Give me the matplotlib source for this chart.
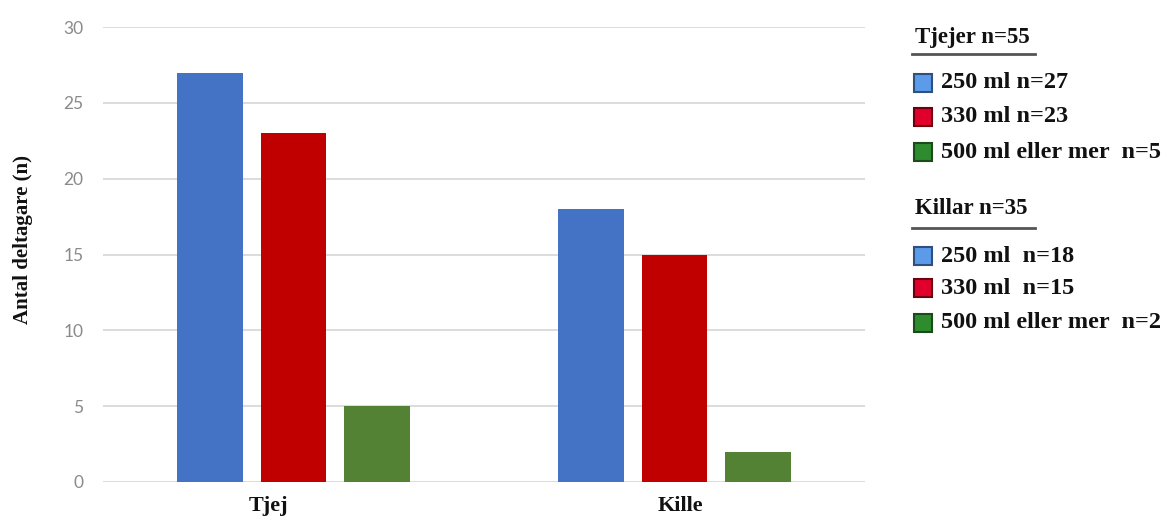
import matplotlib
matplotlib.use("Agg")
import matplotlib.pyplot as plt
import matplotlib.transforms as mtransforms
from matplotlib.patches import Rectangle
from matplotlib.lines import Line2D
import numpy as np

categories = ["Tjej", "Kille"]
series_names = ["250 ml", "330 ml", "500 ml eller mer"]
v250 = [27, 18]
v330 = [23, 15]
v500 = [5, 2]
yticks = [0, 5, 10, 15, 20, 25, 30]
ylabel = "Antal deltagare (n)"

legend_groups = [
    ("Tjejer n=55", ["250 ml n=27", "330 ml n=23", "500 ml eller mer  n=5"]),
    ("Killar n=35", ["250 ml  n=18", "330 ml  n=15", "500 ml eller mer  n=2"]),
]

bar_colors = ["#4472c4", "#c00000", "#548235"]
legend_face = ["#5b9bea", "#e0002b", "#2e8b2e"]
legend_edge = ["#2f4f7f", "#6a0010", "#1b4a1b"]

W, H = 1163, 518
fig = plt.figure(figsize=(W / 100, H / 100), dpi=100)
ax = fig.add_axes([103 / W, 1 - 482 / H, (865 - 103) / W, (482 - 27) / H])

x = np.arange(len(categories))
width = 0.173
offset = 0.22
for i, vals in enumerate([v250, v330, v500]):
    ax.bar(x + (i - 1) * offset, vals, width=width, color=bar_colors[i], zorder=3)

ax.set_xlim(-0.5, 1.5)
ax.set_ylim(0, 30)
ax.set_yticks(yticks)
ax.set_yticklabels([str(t) for t in yticks], fontsize=12.5, color="#8a8a8a", family="Lato")
ax.set_xticks(x)
ax.set_xticklabels(categories, fontsize=16, fontweight="bold", family="Liberation Serif", color="#111111")
ax.tick_params(axis="both", length=0)
ax.tick_params(axis="x", pad=10)
ax.tick_params(axis="y", pad=14)
ax.grid(axis="y", color="#d9d9d9", linewidth=1.3, zorder=0)
for s in ax.spines.values():
    s.set_visible(False)

# small horizontal shifts of category labels as in the reference
label_shift_px = [-25, 6]
for lab, dx in zip(ax.get_xticklabels(), label_shift_px):
    lab.set_transform(lab.get_transform() + mtransforms.ScaledTranslation(dx / 100, 0, fig.dpi_scale_trans))

ax.set_ylabel(ylabel, fontsize=15, fontweight="bold", family="Liberation Serif", color="#111111")
ax.yaxis.set_label_coords(-(103 - 33) / (865 - 103), (482 - 240) / (482 - 27))

def fx(px):
    return px / W

def fy(py):
    return 1 - py / H

header_y = [37, 208]
underline_y = [54, 228]
row_y = [[83, 117, 152], [256, 288, 323]]
for g, (title, items) in enumerate(legend_groups):
    fig.text(fx(915), fy(header_y[g]), title, fontsize=16.5, fontweight="bold", family="Liberation Serif",
             color="#111111", va="center", ha="left")
    fig.add_artist(Line2D([fx(912), fx(1035)], [fy(underline_y[g]), fy(underline_y[g])], color="#555555",
                          linewidth=2, transform=fig.transFigure))
    for j, label in enumerate(items):
        cy = row_y[g][j]
        fig.add_artist(Rectangle((fx(914), fy(cy + 9)), 18 / W, 18 / H, transform=fig.transFigure,
                                 facecolor=legend_face[j], edgecolor=legend_edge[j], linewidth=1.5))
        fig.text(fx(941), fy(cy), label, fontsize=17.5, fontweight="bold", family="Liberation Serif",
                 color="#111111", va="center", ha="left")

fig.savefig("out.png", dpi=100, facecolor="white")
